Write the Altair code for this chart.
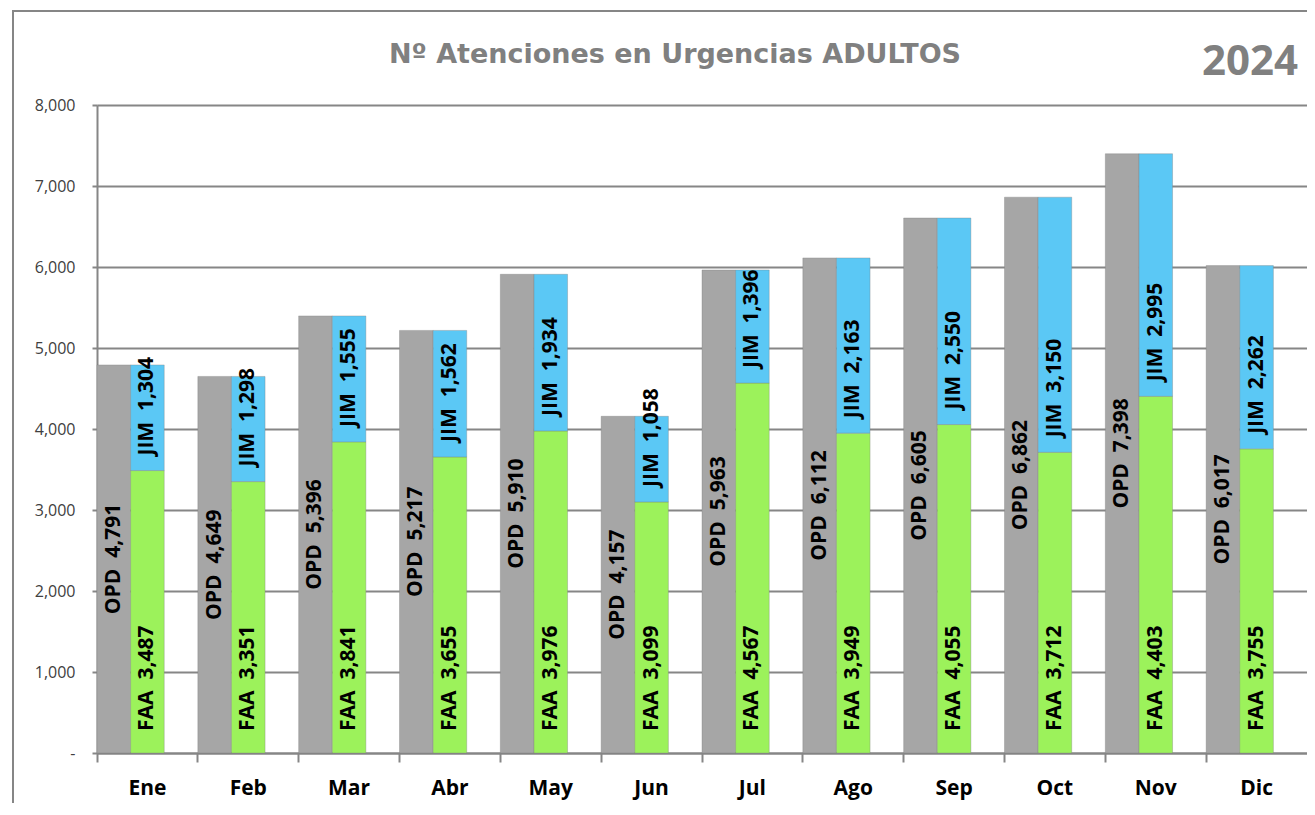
import altair as alt
import pandas as pd

months = ["Ene", "Feb", "Mar", "Abr", "May", "Jun", "Jul", "Ago", "Sep", "Oct", "Nov", "Dic"]
opd = [4791, 4649, 5396, 5217, 5910, 4157, 5963, 6112, 6605, 6862, 7398, 6017]
faa = [3487, 3351, 3841, 3655, 3976, 3099, 4567, 3949, 4055, 3712, 4403, 3755]
jim = [1304, 1298, 1555, 1562, 1934, 1058, 1396, 2163, 2550, 3150, 2995, 2262]
y_ticks = [0, 1000, 2000, 3000, 4000, 5000, 6000, 7000, 8000]

NB = "\u00a0\u00a0"
rows = []
for i, m in enumerate(months):
    rows.append(dict(mes=m, grupo="a", serie="OPD", y0=0, y1=opd[i], ly=opd[i] / 2,
                     lab=f"OPD{NB}{opd[i]:,}", kind="c"))
    rows.append(dict(mes=m, grupo="b", serie="FAA", y0=0, y1=faa[i], ly=0,
                     lab=f"FAA{NB}{faa[i]:,}", kind="f"))
    rows.append(dict(mes=m, grupo="b", serie="JIM", y0=faa[i], y1=faa[i] + jim[i], ly=faa[i],
                     lab=f"JIM{NB}{jim[i]:,}", kind="j"))
df = pd.DataFrame(rows)

FONT = "Open Sans"
x_enc = alt.X("mes:N", sort=months, title=None,
              scale=alt.Scale(paddingInner=0, paddingOuter=0),
              axis=alt.Axis(labelAngle=0, labelFont=FONT, labelFontSize=21, labelFontWeight="bold",
                            labelColor="#000000", labelPadding=15, tickSize=9, tickWidth=2,
                            tickColor="#868686", domainColor="#868686", domainWidth=2,
                            bandPosition=0, grid=False))
xo_enc = alt.XOffset("grupo:N", scale=alt.Scale(domain=["a", "b", "c"], paddingInner=0, paddingOuter=0))
y_scale = alt.Scale(domain=[0, 8000], nice=False)
y_axis = alt.Axis(values=y_ticks, labelExpr="datum.value == 0 ? '-' : format(datum.value, ',')",
                  labelFont=FONT, labelFontSize=16, labelColor="#404040", labelPadding=17,
                  tickSize=5, tickWidth=2, tickColor="#868686", domainColor="#868686",
                  domainWidth=2, gridColor="#868686", gridWidth=2, title=None)

base = alt.Chart(df)

bars = base.mark_bar(stroke="#7f7f7f", strokeWidth=0.6, strokeOpacity=0.6).encode(
    x=x_enc, xOffset=xo_enc,
    y=alt.Y("y0:Q", scale=y_scale, axis=y_axis),
    y2="y1:Q",
    color=alt.Color("serie:N", legend=None,
                    scale=alt.Scale(domain=["OPD", "FAA", "JIM"],
                                    range=["#a6a6a6", "#9cf25b", "#5bc8f5"])),
)

def lbl(kind, align, dx):
    return base.transform_filter(alt.datum.kind == kind).mark_text(
        angle=270, align=align, baseline="middle", dx=dx, font=FONT, fontSize=21,
        fontWeight="bold", color="#000000"
    ).encode(x=x_enc, xOffset=xo_enc, y=alt.Y("ly:Q", scale=y_scale), text="lab:N")

lab_opd = lbl("c", "center", 0)
lab_faa = lbl("f", "left", 22)
lab_jim = lbl("j", "left", 15)

one = alt.Chart(pd.DataFrame({"t": ["Nº Atenciones en Urgencias ADULTOS"], "yr": ["2024"]}))
title = one.mark_text(font="DejaVu Sans", fontSize=27, fontWeight="bold", color="#808080",
                      align="center", baseline="middle").encode(
    x=alt.value(578), y=alt.value(-50), text="t:N")
year = one.mark_text(font=FONT, fontSize=42, fontWeight="bold", color="#808080",
                     align="center", baseline="middle").encode(
    x=alt.value(1153), y=alt.value(-43), text="yr:N")
frame = one.mark_rect(fill=None, stroke="#868686", strokeWidth=2).encode(
    x=alt.value(-84), y=alt.value(-94), x2=alt.value(1300), y2=alt.value(800))

chart = alt.layer(frame, bars, lab_opd, lab_faa, lab_jim, title, year).properties(
    width=1210, height=648,
    autosize=alt.AutoSizeParams(type="none"),
    padding={"left": 89, "top": 97, "right": 0, "bottom": 50},
).configure_view(stroke=None).configure(background="#ffffff")

chart.save("out.html", embed_options={"renderer": "svg", "actions": False})
